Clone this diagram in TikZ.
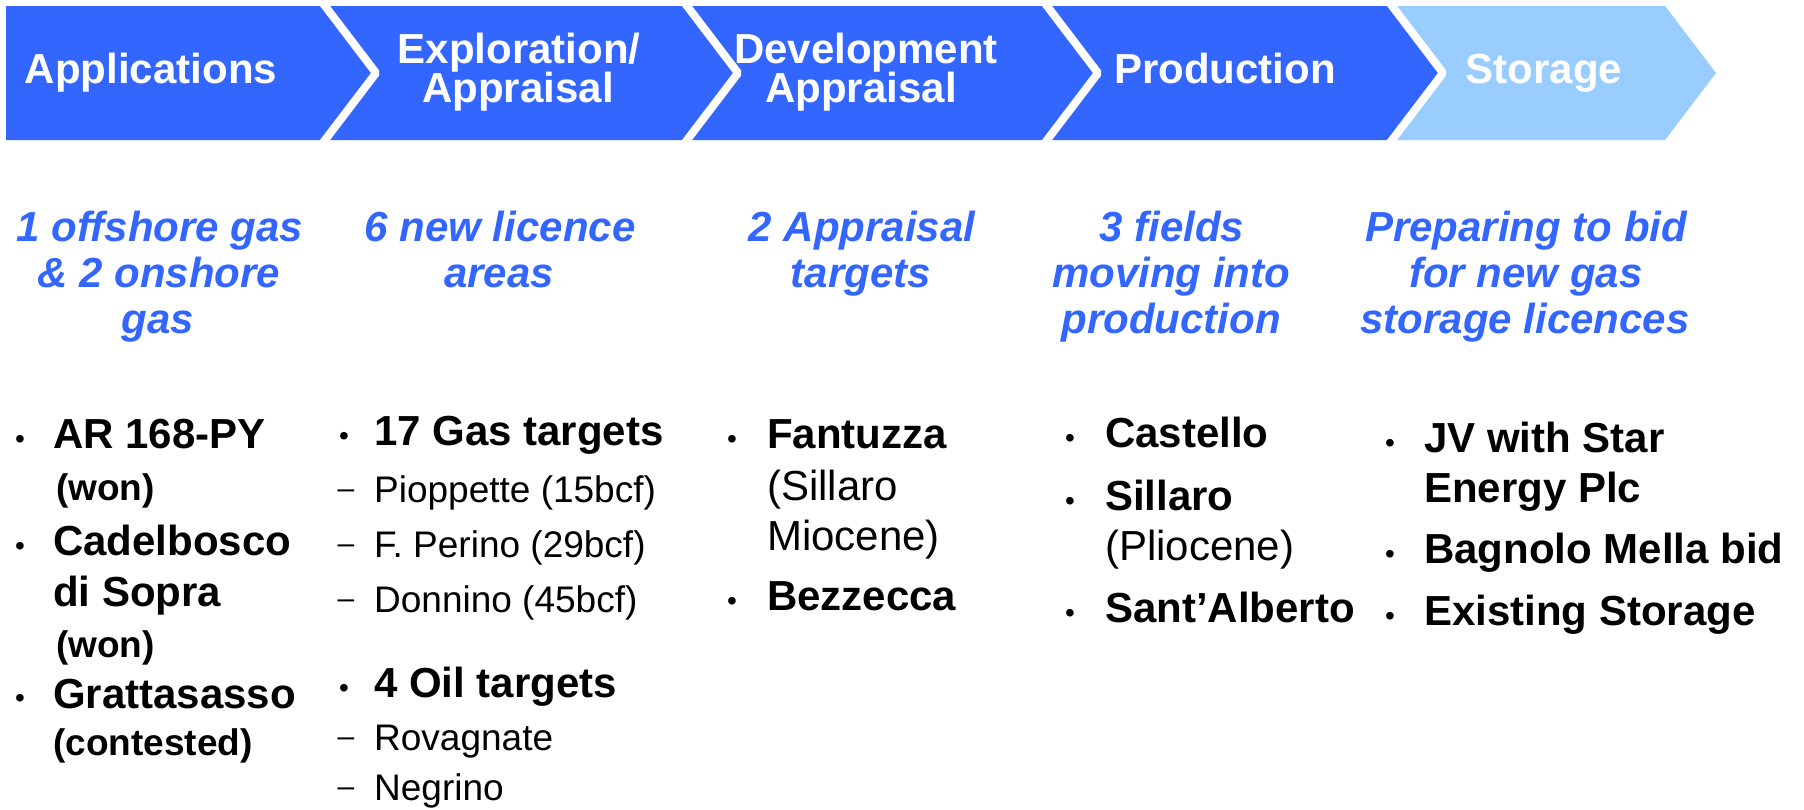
\documentclass[tikz,border=0pt]{standalone}
\usepackage{fontspec}
\setmainfont{Liberation Sans}
\definecolor{chev}{HTML}{3366FF}
\definecolor{chevlight}{HTML}{99CCFF}
\definecolor{ital}{HTML}{3366FF}
\begin{document}
\begin{tikzpicture}[x=1pt,y=-1pt,
  hdr/.style={text=white, font=\fontsize{42}{42}\selectfont\bfseries, anchor=base, inner sep=0},
  sub/.style={text=ital, font=\fontsize{42}{46}\selectfont\bfseries\itshape, anchor=base, inner sep=0},
  itm/.style={font=\fontsize{42}{46}\selectfont\bfseries, anchor=base west, inner sep=0},
  itmr/.style={font=\fontsize{42}{46}\selectfont, anchor=base west, inner sep=0},
  smallb/.style={font=\fontsize{37}{40}\selectfont\bfseries, anchor=base west, inner sep=0},
  smallr/.style={font=\fontsize{37}{40}\selectfont, anchor=base west, inner sep=0},
  bul/.style={font=\fontsize{28}{28}\selectfont, anchor=base, inner sep=0},
  dsh/.style={font=\fontsize{30}{30}\selectfont, anchor=base, inner sep=0, yshift=4pt},
  sepline/.style={white, line width=8pt, line join=bevel}]
\useasboundingbox (0,0) rectangle (1804,809);
\fill[white] (0,0) rectangle (1804,809);
% chevrons
\fill[chev] (6,6) -- (325,6) -- (376,73) -- (325,140) -- (6,140) -- cycle;
\fill[chev] (325,6) -- (687,6) -- (738,73) -- (687,140) -- (325,140) -- (376,73) -- cycle;
\fill[chev] (687,6) -- (1047,6) -- (1098,73) -- (1047,140) -- (687,140) -- (738,73) -- cycle;
\fill[chev] (1047,6) -- (1392,6) -- (1443,73) -- (1392,140) -- (1047,140) -- (1098,73) -- cycle;
\fill[chevlight] (1392,6) -- (1665,6) -- (1716,73) -- (1665,140) -- (1392,140) -- (1443,73) -- cycle;
\foreach \bx in {325,687,1047,1392}
  \draw[sepline] (\bx-3,2) -- (\bx+51,73) -- (\bx-3,144);
% headers
\node[hdr] (h1) at (151,83) {Applications};
\node[hdr] (h2a) at (519,63) {Exploration/};
\node[hdr] (h2b) at (518,102) {Appraisal};
\node[hdr] (h3a) at (866,63) {Development};
\node[hdr] (h3b) at (861,102) {Appraisal};
\node[hdr] (h4) at (1225,83) {Production};
\node[hdr] (h5) at (1544,83) {Storage};
% italic summaries
\node[sub] (s1a) at (160,241) {1 offshore gas};
\node[sub] (s1b) at (159,287) {\& 2 onshore};
\node[sub] (s1c) at (158,333) {gas};
\node[sub] (s2a) at (500,241) {6 new licence};
\node[sub] (s2b) at (499,287) {areas};
\node[sub] (s3a) at (862,241) {2 Appraisal};
\node[sub] (s3b) at (861,287) {targets};
\node[sub] (s4a) at (1172,241) {3 fields};
\node[sub] (s4b) at (1171,287) {moving into};
\node[sub] (s4c) at (1171,333) {production};
\node[sub] (s5a) at (1526,241) {Preparing to bid};
\node[sub] (s5b) at (1526,287) {for new gas};
\node[sub] (s5c) at (1525,333) {storage licences};
% column 1
\node[bul] (b1a) at (20,448) {•};
\node[itm] (c1a) at (53,448) {AR 168-PY};
\node[smallb] (c1b) at (56,500) {(won)};
\node[bul] (b1b) at (20,555) {•};
\node[itm] (c1c) at (53,555) {Cadelbosco};
\node[itm] (c1d) at (53,606) {di Sopra};
\node[smallb] (c1e) at (56,657) {(won)};
\node[bul] (b1c) at (20,707) {•};
\node[itm] (c1f) at (53,708) {Grattasasso};
\node[smallb] (c1g) at (53,755) {(contested)};
% column 2
\node[bul] (b2a) at (344,445) {•};
\node[itm] (c2a) at (374,445) {17 Gas targets};
\node[dsh] (d2a) at (346,502) {–};
\node[smallr] (c2b) at (374,502) {Pioppette (15bcf)};
\node[dsh] (d2b) at (346,557) {–};
\node[smallr] (c2c) at (374,557) {F. Perino (29bcf)};
\node[dsh] (d2c) at (346,612) {–};
\node[smallr] (c2d) at (374,612) {Donnino (45bcf)};
\node[bul] (b2b) at (344,697) {•};
\node[itm] (c2e) at (374,697) {4 Oil targets};
\node[dsh] (d2d) at (346,750) {–};
\node[smallr] (c2f) at (374,750) {Rovagnate};
\node[dsh] (d2e) at (346,800) {–};
\node[smallr] (c2g) at (374,800) {Negrino};
% column 3
\node[bul] (b3a) at (732,448) {•};
\node[itm] (c3a) at (767,448) {Fantuzza};
\node[itmr] (c3b) at (767,500) {(Sillaro};
\node[itmr] (c3c) at (767,550) {Miocene)};
\node[bul] (b3b) at (732,610) {•};
\node[itm] (c3d) at (767,610) {Bezzecca};
% column 4
\node[bul] (b4a) at (1070,447) {•};
\node[itm] (c4a) at (1105,447) {Castello};
\node[bul] (b4b) at (1070,510) {•};
\node[itm] (c4b) at (1105,510) {Sillaro};
\node[itmr] (c4c) at (1105,560) {(Pliocene)};
\node[bul] (b4c) at (1070,622) {•};
\node[itm] (c4d) at (1105,622) {Sant’Alberto};
% column 5
\node[bul] (b5a) at (1390,452) {•};
\node[itm] (c5a) at (1424,452) {JV with Star};
\node[itm] (c5b) at (1424,502) {Energy Plc};
\node[bul] (b5b) at (1390,563) {•};
\node[itm] (c5c) at (1424,563) {Bagnolo Mella bid};
\node[bul] (b5c) at (1390,625) {•};
\node[itm] (c5d) at (1424,625) {Existing Storage};
\end{tikzpicture}
\end{document}
